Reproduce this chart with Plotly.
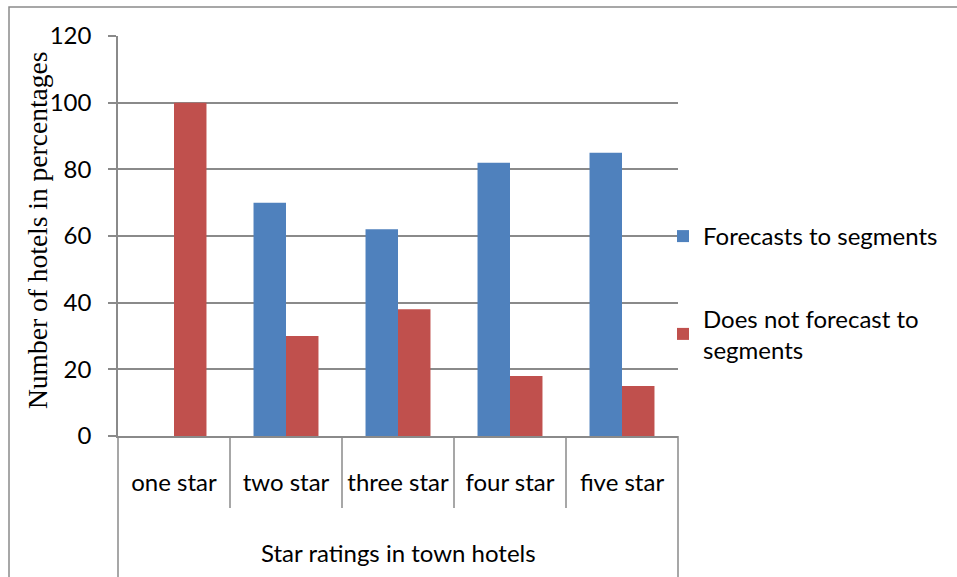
import plotly.graph_objects as go

# Share of hotels (%) by star rating
categories = ["one star", "two star", "three star", "four star", "five star"]
forecasts = [0, 70, 62, 82, 85]
no_forecasts = [100, 30, 38, 18, 15]
series_names = ["Forecasts to segments", "Does not forecast to<br>segments"]
y_ticks = [0, 20, 40, 60, 80, 100, 120]
x_group_label = "Star ratings in town hotels"
y_title = "Number of hotels in percentages"

W, H = 957, 577
L, R, T, B = 118, 678, 36, 436  # plot-area pixel box
GRID = "#8a8a8a"
SANS = "Lato, 'Open Sans', sans-serif"
SERIF = "'Liberation Serif', 'Times New Roman', serif"


def px(x):
    return (x - L) / (R - L)


def py(y):
    return (B - y) / (B - T)


fig = go.Figure()
fig.add_trace(go.Bar(x=categories, y=forecasts, name=series_names[0],
                     marker=dict(color="#4F81BD", line=dict(width=0)),
                     legendgroup="a"))
fig.add_trace(go.Bar(x=categories, y=no_forecasts, name=series_names[1],
                     marker=dict(color="#C0504D", line=dict(width=0)),
                     legendgroup="b"))

shapes = []
n = len(categories)
# category dividers below the axis (table-style x axis)
for i in range(n + 1):
    outer = i in (0, n)
    shapes.append(dict(type="line", xref="paper", yref="paper",
                       x0=i / n, x1=i / n, y0=0, y1=py(600 if outer else 508),
                       line=dict(color=GRID, width=1.5)))
# chart frame
shapes.append(dict(type="rect", xref="paper", yref="paper",
                   x0=px(9), x1=px(1000), y0=py(7), y1=py(650),
                   line=dict(color=GRID, width=1.5), fillcolor="rgba(0,0,0,0)", layer="below"))

fig.update_layout(
    width=W, height=H,
    margin=dict(l=L, r=W - R, t=T, b=H - B, pad=0),
    paper_bgcolor="white", plot_bgcolor="white",
    barmode="group", bargap=0.42, bargroupgap=0,
    font=dict(family=SANS, color="#000000"),
    showlegend=True,
    legend=dict(x=px(663), y=py(214), xanchor="left", yanchor="top",
                font=dict(family=SANS, size=24, color="#000000"),
                tracegroupgap=48, bgcolor="rgba(0,0,0,0)"),
    shapes=shapes,
    annotations=[
        dict(text=x_group_label, xref="paper", yref="paper",
             x=0.5, y=py(552), xanchor="center", yanchor="middle",
             showarrow=False, font=dict(family=SANS, size=24, color="#000000")),
        dict(text=y_title, xref="paper", yref="paper", textangle=-90,
             x=px(37), y=py(231), xanchor="center", yanchor="middle",
             showarrow=False, font=dict(family=SERIF, size=27.5, color="#000000")),
    ],
)

fig.update_xaxes(
    type="category", range=[-0.5, n - 0.5],
    showgrid=False, showline=True, linecolor=GRID, linewidth=1.5,
    ticks="", tickfont=dict(family=SANS, size=24, color="#000000"),
    ticklabelstandoff=24,
)
fig.update_yaxes(
    range=[0, 120], tickvals=y_ticks,
    showgrid=True, gridcolor=GRID, gridwidth=1.5,
    showline=True, linecolor=GRID, linewidth=1.5,
    ticks="outside", ticklen=8, tickcolor=GRID, tickwidth=1.5,
    tickfont=dict(family=SANS, size=24, color="#000000"),
    ticklabelstandoff=12,
    zeroline=False,
)

fig.write_html("out.html")
